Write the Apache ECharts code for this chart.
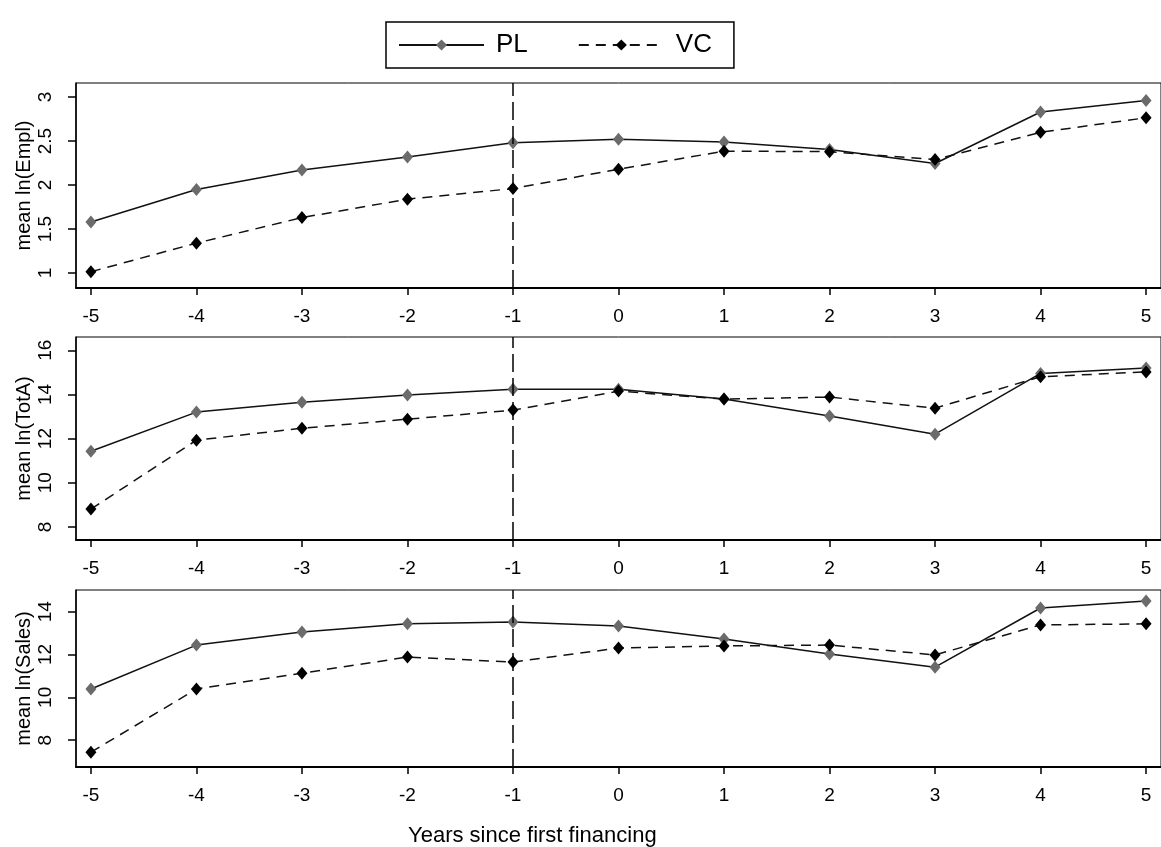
<!DOCTYPE html>
<html>
<head>
<meta charset="utf-8">
<script src="https://cdn.jsdelivr.net/npm/echarts@6/dist/echarts.min.js"></script>
<style>
html,body{margin:0;padding:0;background:#fff;}
#chart{width:1161px;height:847px;}
</style>
</head>
<body>
<div id="chart"></div>
<script>
const years = [-5, -4, -3, -2, -1, 0, 1, 2, 3, 4, 5];
const emplPL = [1.58, 1.95, 2.17, 2.32, 2.48, 2.52, 2.49, 2.405, 2.245, 2.83, 2.96];
const emplVC = [1.015, 1.34, 1.63, 1.84, 1.96, 2.18, 2.385, 2.38, 2.29, 2.60, 2.765];
const totaPL = [11.43, 13.2, 13.65, 13.97, 14.24, 14.24, 13.79, 13.02, 12.2, 14.95, 15.2];
const totaVC = [8.81, 11.93, 12.47, 12.88, 13.29, 14.15, 13.79, 13.88, 13.38, 14.8, 15.02];
const salesPL = [10.39, 12.44, 13.05, 13.43, 13.52, 13.33, 12.72, 12.02, 11.41, 14.17, 14.5];
const salesVC = [7.44, 10.39, 11.13, 11.88, 11.65, 12.3, 12.4, 12.44, 11.98, 13.38, 13.43];
const yTicksEmpl = [1, 1.5, 2, 2.5, 3];
const yTicksTotA = [8, 10, 12, 14, 16];
const yTicksSales = [8, 10, 12, 14];
const yNames = ['mean ln(Empl)', 'mean ln(TotA)', 'mean ln(Sales)'];
const xTitle = 'Years since first financing';

const FONT = 'Liberation Sans, Arial, sans-serif';
const pair = arr => years.map((x, i) => [x, arr[i]]);

const grids = [
  {left: 76, right: -6, top: 83, height: 205},
  {left: 76, right: -6, top: 337, height: 203},
  {left: 76, right: -6, top: 590, height: 177}
].map(g => Object.assign(g, {show: true, borderColor: '#000', borderWidth: 1, backgroundColor: 'transparent'}));

const yRanges = [[0.83, 3.16], [7.41, 16.6], [6.75, 15.01]];
const yTicks = [yTicksEmpl, yTicksTotA, yTicksSales];

const xAxes = [0, 1, 2].map(i => ({
  type: 'value', gridIndex: i, min: -5.1414, max: 5.1414,
  axisLine: {show: true, onZero: false, lineStyle: {color: '#000', width: 2}},
  axisTick: {show: true, length: 7, customValues: years, lineStyle: {color: '#000', width: 1.5}},
  axisLabel: {customValues: years, margin: 19, fontSize: 19, color: '#000', fontFamily: FONT},
  splitLine: {show: false}
}));

const yAxes = [0, 1, 2].map(i => ({
  type: 'value', gridIndex: i, min: yRanges[i][0], max: yRanges[i][1],
  name: yNames[i], nameLocation: 'middle', nameRotate: 90, nameGap: 42,
  nameMoveOverlap: false,
  nameTextStyle: {fontSize: 20, color: '#000', fontFamily: FONT},
  axisLine: {show: true, onZero: false, lineStyle: {color: '#000', width: 1.5}},
  axisTick: {show: true, length: 8, customValues: yTicks[i], lineStyle: {color: '#000', width: 1.5}},
  axisLabel: {customValues: yTicks[i], rotate: 90, margin: 21, fontSize: 19, color: '#000', fontFamily: FONT},
  splitLine: {show: false}
}));

const datasets = [[emplPL, emplVC], [totaPL, totaVC], [salesPL, salesVC]];
const series = [];
datasets.forEach((d, i) => {
  series.push({
    name: 'PL', type: 'line', xAxisIndex: i, yAxisIndex: i, data: pair(d[0]),
    symbol: 'diamond', symbolSize: [11, 13], showSymbol: true,
    itemStyle: {color: '#6b6b6b'},
    lineStyle: {color: '#111', width: 1.5, type: 'solid'},
    animation: false, z: 2
  });
  series.push({
    name: 'VC', type: 'line', xAxisIndex: i, yAxisIndex: i, data: pair(d[1]),
    symbol: 'diamond', symbolSize: [11, 13], showSymbol: true,
    itemStyle: {color: '#000'},
    lineStyle: {color: '#111', width: 1.5, type: [10, 7]},
    animation: false, z: 3,
    markLine: {
      silent: true, symbol: 'none', label: {show: false},
      lineStyle: {color: '#000', width: 1.5, type: [18, 6]},
      data: [{xAxis: -1}], animation: false
    }
  });
});

const chart = echarts.init(document.getElementById('chart'));
chart.setOption({
  backgroundColor: '#fff',
  animation: false,
  title: {
    text: xTitle, left: 403, top: 820,
    textStyle: {fontSize: 22, fontWeight: 'normal', color: '#000', fontFamily: FONT}
  },
  legend: {
    data: ['PL', 'VC'], left: 386, top: 22,
    orient: 'horizontal',
    itemWidth: 85, itemHeight: 14, itemGap: 50,
    padding: [10, 22, 10, 12],
    borderColor: '#000', borderWidth: 1.5,
    textStyle: {fontSize: 26, color: '#000', fontFamily: FONT, padding: [0, 0, 0, 7]}
  },
  grid: grids,
  xAxis: xAxes,
  yAxis: yAxes,
  series: series
});
</script>
</body>
</html>
